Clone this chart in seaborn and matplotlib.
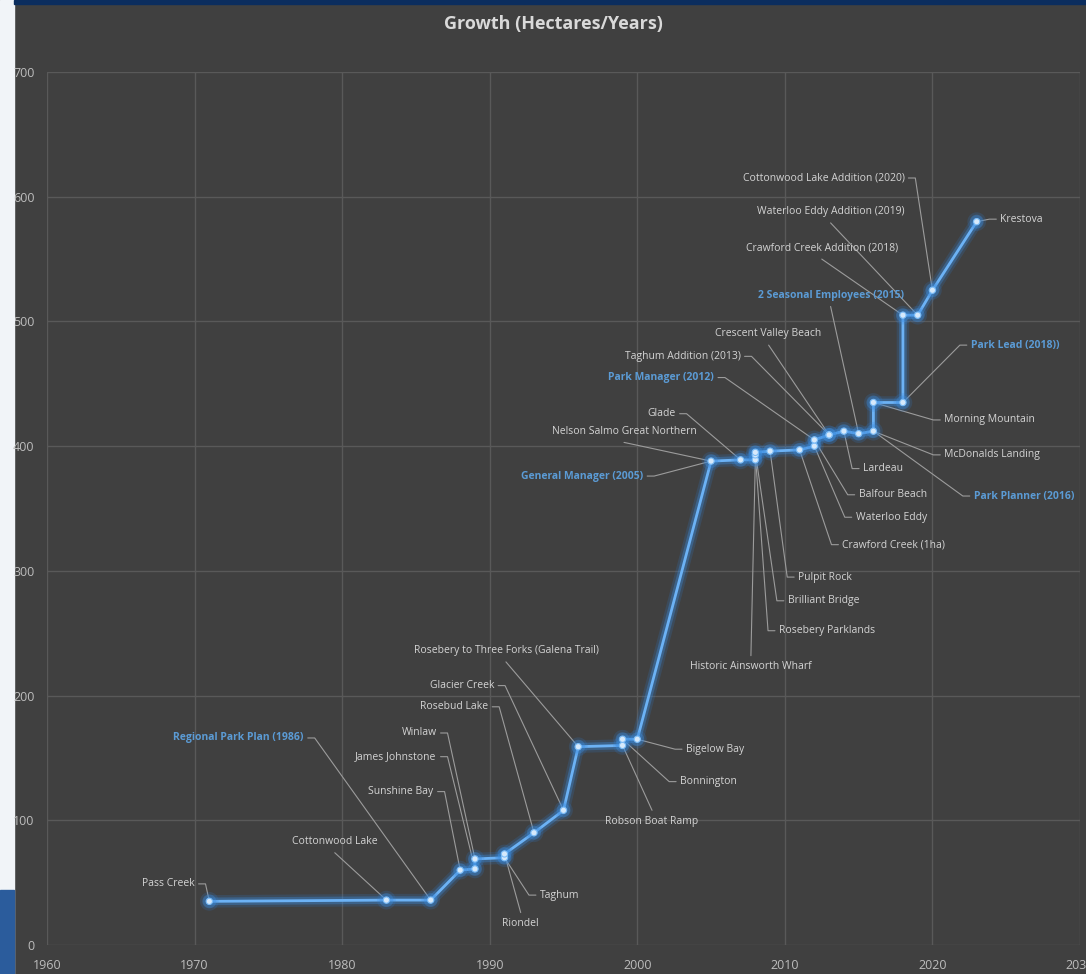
import matplotlib
matplotlib.use("Agg")
import matplotlib.pyplot as plt
import matplotlib.patheffects as pe
from matplotlib.patches import Rectangle
import seaborn as sns
import pandas as pd

# park acquisitions, in order along the growth line
years = [1971, 1983, 1986, 1988, 1989, 1989, 1991, 1991, 1993, 1995, 1996, 1999, 1999, 2000,
         2005, 2007, 2008, 2008, 2008, 2009, 2011, 2012, 2012, 2013, 2013, 2014, 2015, 2016,
         2016, 2018, 2018, 2019, 2020, 2023]
hectares = [35, 36, 36, 60, 61, 69, 70, 73, 90, 108, 159, 160, 165, 165,
            388, 389, 389, 393, 395, 396, 397, 400, 405, 409, 409, 412, 410, 412,
            435, 435, 505, 505, 525, 580]
parks = ["Pass Creek", "Cottonwood Lake", "", "Sunshine Bay", "James Johnstone", "Winlaw",
         "Taghum", "Riondel", "Rosebud Lake", "Glacier Creek",
         "Rosebery to Three Forks (Galena Trail)", "Robson Boat Ramp", "Bonnington", "Bigelow Bay",
         "Nelson Salmo Great Northern", "Glade", "Historic Ainsworth Wharf", "Rosebery Parklands",
         "Brilliant Bridge", "Pulpit Rock", "Crawford Creek (1ha)", "Waterloo Eddy", "Balfour Beach",
         "Crescent Valley Beach", "Taghum Addition (2013)", "Lardeau", "", "McDonalds Landing",
         "Morning Mountain", "", "Crawford Creek Addition (2018)", "Waterloo Eddy Addition (2019)",
         "Cottonwood Lake Addition (2020)", "Krestova"]

# staff / planning milestones (blue labels)
event_names = ["Regional Park Plan (1986)", "General Manager (2005)", "Park Manager (2012)",
               "2 Seasonal Employees (2015)", "Park Planner (2016)", "Park Lead (2018))"]
event_years = [1986, 2005, 2012, 2015, 2016, 2018]
event_hectares = [36, 388, 405, 410, 412, 435]

x_ticks = [1960, 1970, 1980, 1990, 2000, 2010, 2020, 2030]
y_ticks = [0, 100, 200, 300, 400, 500, 600, 700]

# where each callout sits (x, y in data units, alignment)
label_layout = {
    "Pass Creek": (1970.0, 49, "right"),
    "Cottonwood Lake": (1979.5, 83, "center"),
    "Sunshine Bay": (1986.2, 123, "right"),
    "James Johnstone": (1986.4, 151, "right"),
    "Winlaw": (1986.4, 170, "right"),
    "Taghum": (1993.4, 40, "left"),
    "Riondel": (1992.1, 17, "center"),
    "Rosebud Lake": (1989.9, 191, "right"),
    "Glacier Creek": (1990.3, 208, "right"),
    "Rosebery to Three Forks (Galena Trail)": (1991.1, 236, "center"),
    "Robson Boat Ramp": (2001.0, 99, "center"),
    "Bonnington": (2002.9, 131, "left"),
    "Bigelow Bay": (2003.3, 157, "left"),
    "Nelson Salmo Great Northern": (1999.1, 412, "center"),
    "Glade": (2002.6, 426, "right"),
    "Historic Ainsworth Wharf": (2007.7, 223, "center"),
    "Rosebery Parklands": (2009.6, 252, "left"),
    "Brilliant Bridge": (2010.2, 276, "left"),
    "Pulpit Rock": (2010.9, 295, "left"),
    "Crawford Creek (1ha)": (2013.9, 321, "left"),
    "Waterloo Eddy": (2014.8, 343, "left"),
    "Balfour Beach": (2015.0, 361, "left"),
    "Crescent Valley Beach": (2008.9, 490, "center"),
    "Taghum Addition (2013)": (2007.0, 472, "right"),
    "Lardeau": (2015.3, 382, "left"),
    "McDonalds Landing": (2020.8, 393, "left"),
    "Morning Mountain": (2020.8, 421, "left"),
    "Crawford Creek Addition (2018)": (2012.5, 559, "center"),
    "Waterloo Eddy Addition (2019)": (2013.1, 588, "center"),
    "Cottonwood Lake Addition (2020)": (2018.1, 615, "right"),
    "Krestova": (2024.6, 582, "left"),
    "Regional Park Plan (1986)": (1977.4, 166, "right"),
    "General Manager (2005)": (2000.4, 376, "right"),
    "Park Manager (2012)": (2005.2, 455, "right"),
    "2 Seasonal Employees (2015)": (2013.1, 521, "center"),
    "Park Planner (2016)": (2022.8, 360, "left"),
    "Park Lead (2018))": (2022.6, 481, "left"),
}

bg = "#404040"
text_col = "#d4d4d4"
event_col = "#5b9bd5"
leader_col = "#9c9c9c"

sns.set_theme(style="dark", rc={
    "axes.facecolor": bg,
    "figure.facecolor": bg,
    "grid.color": "#595959",
    "grid.linewidth": 1.0,
})
plt.rcParams["font.family"] = ["Open Sans", "DejaVu Sans"]

df = pd.DataFrame({"year": years, "hectares": hectares, "park": parks})

fig = plt.figure(figsize=(10.86, 9.74), dpi=100)
ax = fig.add_axes([47 / 1086, 29 / 974, 1033 / 1086, 873 / 974])

sns.lineplot(data=df, x="year", y="hectares", sort=False, estimator=None, ax=ax,
             color="#6cb2f5", linewidth=2.0, marker="o", markersize=4.5,
             markerfacecolor="#d6e9fb", markeredgecolor="#7dbdf7", markeredgewidth=0.8, zorder=5)
ax.lines[-1].set_path_effects([
    pe.Stroke(linewidth=9, foreground="#2f7fd6", alpha=0.18),
    pe.Stroke(linewidth=5.5, foreground="#3c8ee0", alpha=0.35),
    pe.Normal(),
])

ax.set_xlim(1960, 2030)
ax.set_ylim(0, 700)
ax.set_xticks(x_ticks)
ax.set_yticks(y_ticks)
ax.set_xlabel("")
ax.set_ylabel("")
ax.grid(True, axis="both", color="#595959", linewidth=1.0)
for s in ax.spines.values():
    s.set_visible(False)
ax.tick_params(axis="both", length=0, colors="#bdbdbd", labelsize=9)
ax.tick_params(axis="x", pad=10)
ax.tick_params(axis="y", pad=9)


def callout(name, px, py, colour, weight):
    tx, ty, ha = label_layout[name]
    if ha == "right":
        pts = [(px, py), (tx + 0.74, ty), (tx + 0.27, ty)]
    elif ha == "left":
        pts = [(px, py), (tx - 0.74, ty), (tx - 0.27, ty)]
    else:
        dy = -9 if ty > py else 9
        pts = [(px, py), (tx, ty + dy)]
    ax.plot([p[0] for p in pts], [p[1] for p in pts], color=leader_col, lw=0.8, zorder=3)
    ax.text(tx, ty, name, ha=ha, va="center", fontsize=7.5, color=colour,
            fontweight=weight, zorder=6)


for yr, ha_, nm in zip(years, hectares, parks):
    if nm:
        callout(nm, yr, ha_, text_col, "normal")
for nm, yr, ha_ in zip(event_names, event_years, event_hectares):
    callout(nm, yr, ha_, event_col, "bold")

fig.text(0.51, 1 - 24 / 974, "Growth (Hectares/Years)", ha="center", va="center",
         fontsize=13, fontweight="bold", color="#d9d9d9")

# slide background peeking in on the left and top
fig.patches.append(Rectangle((0, 0), 14 / 1086, 1, transform=fig.transFigure,
                             color="#f1f4f8", zorder=-1))
fig.patches.append(Rectangle((0, 0), 14 / 1086, 84 / 974, transform=fig.transFigure,
                             color="#2b5c9c", zorder=-1))
fig.patches.append(Rectangle((14 / 1086, 1 - 4 / 974), 1, 4 / 974, transform=fig.transFigure,
                             color="#0b2d5e", zorder=-1))

fig.savefig("out.png", dpi=100, facecolor=fig.get_facecolor())
